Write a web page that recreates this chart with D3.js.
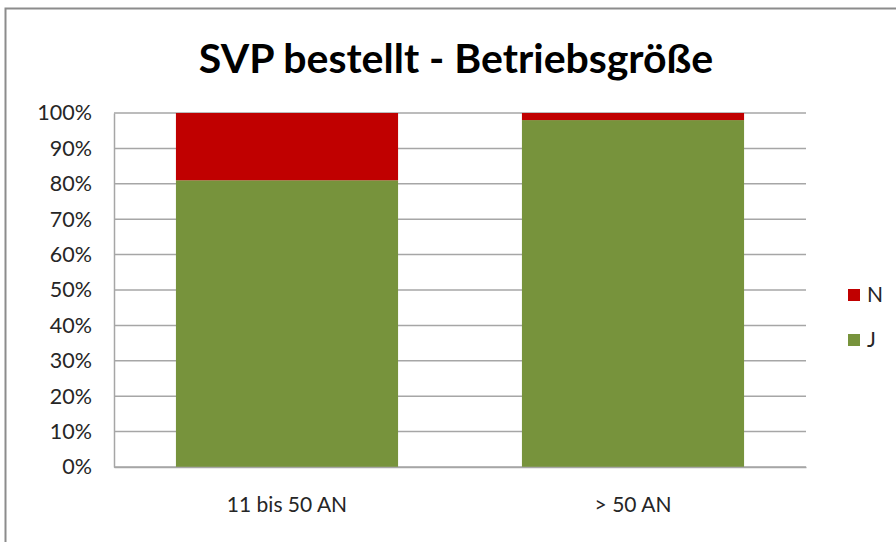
<!DOCTYPE html>
<html>
<head>
<meta charset="utf-8">
<script src="https://cdn.jsdelivr.net/npm/d3@7"></script>
<style>
  body { margin: 0; background: #fff; }
  text { font-family: Lato, "Open Sans", sans-serif; fill: #1a1a1a; }
</style>
</head>
<body>
<div id="chart"></div>
<script>
// data
const categories = ["11 bis 50 AN", "> 50 AN"];
const seriesJ = [81, 98];
const seriesN = [19, 2];
const yTicks = [0, 10, 20, 30, 40, 50, 60, 70, 80, 90, 100];

const width = 896, height = 542;
const margin = {top: 113, right: 90, bottom: 75, left: 114};
const innerW = width - margin.left - margin.right;   // 692
const innerH = height - margin.top - margin.bottom;  // 354

const svg = d3.select("#chart")
  .append("svg")
    .attr("width", width)
    .attr("height", height);

// outer chart frame
svg.append("rect")
  .attr("x", 5.5).attr("y", 8.5)
  .attr("width", width + 10).attr("height", height + 10)
  .attr("fill", "none")
  .attr("stroke", "#8c8c8c")
  .attr("stroke-width", 2);

// title
svg.append("text")
  .attr("x", 456).attr("y", 73)
  .attr("text-anchor", "middle")
  .style("font-size", "41px")
  .style("font-weight", "bold")
  .style("fill", "#000")
  .text("SVP bestellt - Betriebsgröße");

const g = svg.append("g")
  .attr("transform", `translate(${margin.left},${margin.top})`);

const x = d3.scaleBand()
  .domain(categories)
  .range([0, innerW])
  .paddingInner(0.358)
  .paddingOuter(0.179);

const y = d3.scaleLinear()
  .domain([0, 100])
  .range([innerH, 0]);

// gridlines
g.append("g")
  .selectAll("line")
  .data(yTicks)
  .join("line")
    .attr("x1", 0).attr("x2", innerW)
    .attr("y1", d => y(d)).attr("y2", d => y(d))
    .attr("stroke", "#a6a6a6")
    .attr("stroke-width", 1.5);

// y axis
const yAxis = g.append("g")
  .call(d3.axisLeft(y).tickValues(yTicks).tickFormat(d => d + "%").tickSize(0).tickPadding(22));
yAxis.select(".domain").attr("stroke", "#a6a6a6").attr("stroke-width", 1.5);
yAxis.selectAll("text").style("font-size", "21.5px").style("fill", "#262626").style("font-family", "Lato, sans-serif");

// stacked bars
const stackData = categories.map((c, i) => ({cat: c, J: seriesJ[i], N: seriesN[i]}));
const stack = d3.stack().keys(["J", "N"])(stackData);
const color = d3.scaleOrdinal().domain(["J", "N"]).range(["#77933c", "#c00000"]);

g.append("g")
  .selectAll("g")
  .data(stack)
  .join("g")
    .attr("fill", d => color(d.key))
  .selectAll("rect")
  .data(d => d)
  .join("rect")
    .attr("x", d => x(d.data.cat))
    .attr("y", d => y(d[1]))
    .attr("width", x.bandwidth())
    .attr("height", d => y(d[0]) - y(d[1]));

// x axis
const xAxis = g.append("g")
  .attr("transform", `translate(0,${innerH})`)
  .call(d3.axisBottom(x).tickSize(0).tickPadding(30));
xAxis.select(".domain").attr("stroke", "#a6a6a6").attr("stroke-width", 1.5);
xAxis.selectAll("text").style("font-size", "21px").style("fill", "#262626").style("font-family", "Lato, sans-serif");

// legend
const legendKeys = ["N", "J"];
const legend = svg.append("g")
  .selectAll("g")
  .data(legendKeys)
  .join("g")
    .attr("transform", (d, i) => `translate(848,${289 + i * 45})`);
legend.append("rect")
  .attr("width", 12).attr("height", 12)
  .attr("fill", d => color(d));
legend.append("text")
  .attr("x", 19).attr("y", 13)
  .style("font-size", "21px")
  .style("fill", "#262626")
  .text(d => d);
</script>
</body>
</html>
